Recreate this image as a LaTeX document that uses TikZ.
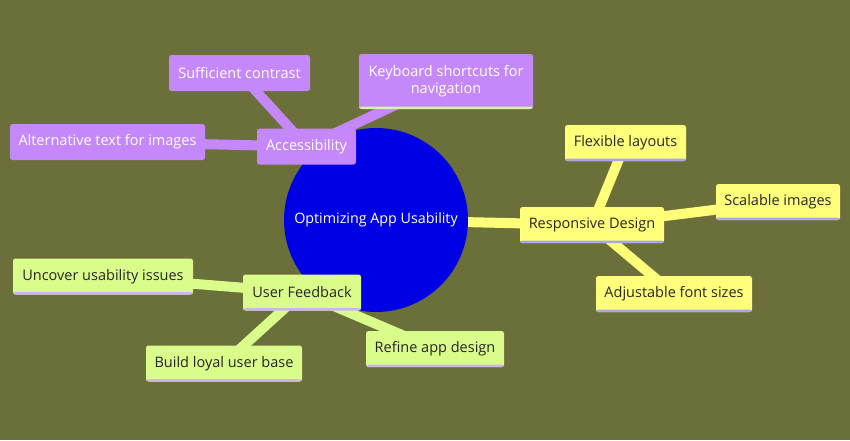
\documentclass[tikz,border=0pt]{standalone}
\usepackage{fontspec}
\setmainfont{Open Sans}
\pgfdeclarelayer{bg}
\pgfdeclarelayer{links}
\pgfsetlayers{bg,links,main}
\definecolor{bgcol}{RGB}{107,112,58}
\definecolor{purp}{RGB}{196,136,250}
\definecolor{yel}{RGB}{255,255,122}
\definecolor{grn}{RGB}{218,252,138}
\definecolor{hubcol}{RGB}{0,0,228}
\definecolor{lav}{RGB}{170,165,240}
\definecolor{lgrn}{RGB}{215,245,160}
\definecolor{lpink}{RGB}{205,180,235}
\tikzset{
  box/.style={rounded corners=2.5pt, minimum height=36pt, inner sep=0pt, font=\fontsize{14.5}{17}\selectfont, align=center},
  strip/.style={path picture={\fill[#1] ([yshift=2.5pt]path picture bounding box.south west) rectangle (path picture bounding box.south east);}},
  pbox/.style={box, fill=purp, text=white},
  ybox/.style={box, fill=yel, text=black!85, strip=lav},
  gbox/.style={box, fill=grn, text=black!85, strip=lpink},
  band/.style={line width=10pt},
  pband/.style={band, draw=purp},
  yband/.style={band, draw=yel},
  gband/.style={band, draw=grn},
}
\begin{document}
\begin{tikzpicture}[x=1pt,y=-1pt]
\begin{pgfonlayer}{bg}
\fill[bgcol] (0,0) rectangle (850,440);
\end{pgfonlayer}
\useasboundingbox (0,0) rectangle (850,440);
% hub
\node[circle, fill=hubcol, minimum size=184pt, inner sep=0pt, text=white, font=\fontsize{14.3}{17}\selectfont] (hub) at (376,220) {Optimizing App Usability};
% accessibility branch
\node[pbox, minimum width=99pt] (acc) at (306.5,146.5) {Accessibility};
\node[pbox, minimum width=141pt] (suf) at (239.5,73) {Sufficient contrast};
\node[pbox, minimum width=174pt, minimum height=55pt, strip=lgrn] (key) at (446,81.5) {Keyboard shortcuts for\\navigation};
\node[pbox, minimum width=195pt] (alt) at (107.5,142) {Alternative text for images};
% responsive branch
\node[ybox, minimum width=144pt] (res) at (592,225) {Responsive Design};
\node[ybox, minimum width=121pt] (flex) at (625.5,143) {Flexible layouts};
\node[ybox, minimum width=124pt] (scal) at (778,202) {Scalable images};
\node[ybox, minimum width=156pt] (adj) at (674,294) {Adjustable font sizes};
% feedback branch
\node[gbox, minimum width=118pt] (uf) at (302,292.5) {User Feedback};
\node[gbox, minimum width=180pt] (unc) at (103,276.5) {Uncover usability issues};
\node[gbox, minimum width=156pt] (build) at (224,363.5) {Build loyal user base};
\node[gbox, minimum width=138pt] (ref) at (435,349) {Refine app design};
\begin{pgfonlayer}{links}
\draw[pband] (hub.center) -- (acc.center);
\draw[pband] (acc.center) -- (suf.center);
\draw[pband] (acc.center) -- (key.center);
\draw[pband] (acc.center) -- (alt.center);
\draw[yband] (hub.center) -- (res.center);
\draw[yband] (res.center) -- (flex.center);
\draw[yband] (res.center) -- (scal.center);
\draw[yband] (res.center) -- (adj.center);
\draw[gband] (hub.center) -- (uf.center);
\draw[gband] (uf.center) -- (unc.center);
\draw[gband] (uf.center) -- (build.center);
\draw[gband] (uf.center) -- (ref.center);
\end{pgfonlayer}
\end{tikzpicture}
\end{document}
